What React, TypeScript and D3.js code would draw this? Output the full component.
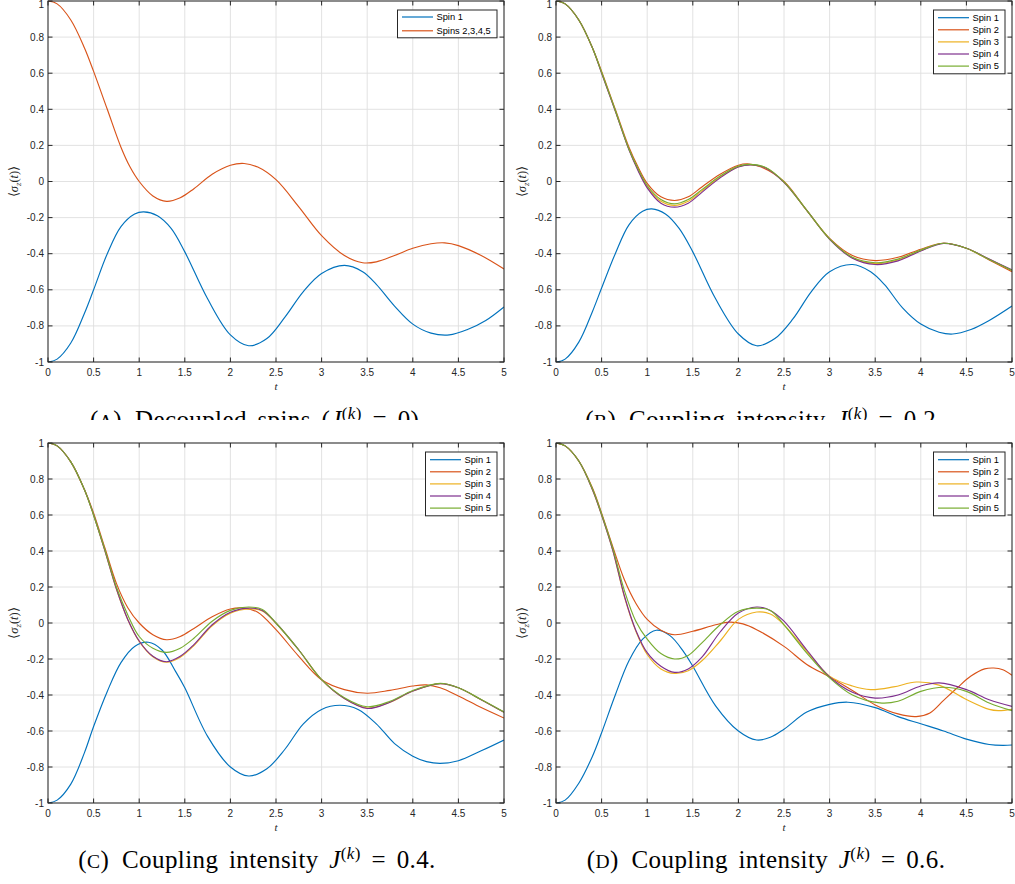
import React from 'react';
import * as d3 from 'd3';

type P = [number, number];

const T_TICKS = [0, 0.5, 1, 1.5, 2, 2.5, 3, 3.5, 4, 4.5, 5];
const T_TICK_LABELS = ['0', '0.5', '1', '1.5', '2', '2.5', '3', '3.5', '4', '4.5', '5'];
const Y_TICKS = [-1, -0.8, -0.6, -0.4, -0.2, 0, 0.2, 0.4, 0.6, 0.8, 1];
const Y_TICK_LABELS = ['-1', '-0.8', '-0.6', '-0.4', '-0.2', '0', '0.2', '0.4', '0.6', '0.8', '1'];

const COLORS = ['#0072BD', '#D95319', '#EDB120', '#7E2F8E', '#77AC30'];
const LEGEND_A = ['Spin 1', 'Spins 2,3,4,5'];
const LEGEND_5 = ['Spin 1', 'Spin 2', 'Spin 3', 'Spin 4', 'Spin 5'];

// Panel A: decoupled spins
const A_SPIN1: P[] = [[0,-1],[0.1,-0.984],[0.25,-0.895],[0.4,-0.73],[0.5,-0.60],[0.65,-0.40],[0.8,-0.25],[0.95,-0.18],[1.05,-0.168],[1.2,-0.19],[1.35,-0.26],[1.5,-0.39],[1.75,-0.65],[2.0,-0.85],[2.2,-0.91],[2.4,-0.87],[2.6,-0.75],[2.8,-0.61],[3.0,-0.51],[3.25,-0.465],[3.45,-0.50],[3.6,-0.57],[3.8,-0.69],[4.0,-0.79],[4.2,-0.84],[4.4,-0.85],[4.6,-0.82],[4.8,-0.77],[5.0,-0.695]];
const A_SPINS2345: P[] = [[0,1],[0.1,0.984],[0.25,0.895],[0.4,0.74],[0.5,0.61],[0.65,0.40],[0.8,0.19],[0.9,0.08],[1.0,0.0],[1.15,-0.08],[1.3,-0.11],[1.45,-0.09],[1.6,-0.04],[1.8,0.04],[2.0,0.09],[2.15,0.10],[2.3,0.08],[2.5,0.01],[2.75,-0.14],[3.0,-0.30],[3.25,-0.41],[3.45,-0.45],[3.6,-0.445],[3.8,-0.41],[4.0,-0.37],[4.2,-0.345],[4.35,-0.34],[4.5,-0.355],[4.75,-0.41],[5.0,-0.485]];

// Panel B: J = 0.2
const B_SPIN1: P[] = [[0,-1],[0.1,-0.984],[0.25,-0.89],[0.4,-0.72],[0.5,-0.59],[0.65,-0.40],[0.8,-0.24],[0.95,-0.165],[1.05,-0.152],[1.2,-0.18],[1.35,-0.26],[1.5,-0.39],[1.75,-0.65],[2.0,-0.845],[2.2,-0.91],[2.4,-0.87],[2.6,-0.76],[2.8,-0.61],[3.0,-0.50],[3.25,-0.46],[3.45,-0.50],[3.6,-0.57],[3.8,-0.70],[4.0,-0.79],[4.2,-0.835],[4.35,-0.845],[4.55,-0.82],[4.75,-0.77],[5.0,-0.69]];
const B_SPIN2: P[] = [[0,1],[0.1,0.984],[0.25,0.895],[0.4,0.74],[0.5,0.61],[0.65,0.40],[0.8,0.19],[0.9,0.08],[1.0,-0.01],[1.15,-0.085],[1.3,-0.105],[1.45,-0.085],[1.6,-0.03],[1.8,0.04],[2.0,0.09],[2.1,0.098],[2.25,0.08],[2.5,0.0],[2.75,-0.16],[3.0,-0.315],[3.25,-0.41],[3.5,-0.438],[3.75,-0.42],[4.0,-0.375],[4.25,-0.342],[4.5,-0.37],[4.75,-0.435],[5.0,-0.50]];
const B_SPIN3: P[] = [[0,1],[0.1,0.984],[0.25,0.895],[0.4,0.74],[0.5,0.603],[0.65,0.392],[0.8,0.178],[0.9,0.065],[1.0,-0.028],[1.15,-0.11],[1.3,-0.133],[1.45,-0.11],[1.6,-0.052],[1.8,0.025],[2.0,0.082],[2.13,0.093],[2.3,0.076],[2.5,-0.004],[2.75,-0.16],[3.0,-0.319],[3.25,-0.422],[3.5,-0.455],[3.75,-0.435],[4.0,-0.382],[4.25,-0.342],[4.5,-0.37],[4.75,-0.431],[5.0,-0.492]];
const B_SPIN4: P[] = [[0,1],[0.1,0.984],[0.25,0.895],[0.4,0.74],[0.5,0.60],[0.65,0.39],[0.8,0.175],[0.9,0.06],[1.0,-0.035],[1.15,-0.12],[1.3,-0.142],[1.45,-0.12],[1.6,-0.06],[1.8,0.02],[2.0,0.08],[2.15,0.092],[2.3,0.075],[2.5,-0.005],[2.75,-0.16],[3.0,-0.32],[3.25,-0.425],[3.5,-0.46],[3.75,-0.44],[4.0,-0.385],[4.25,-0.343],[4.5,-0.37],[4.75,-0.43],[5.0,-0.49]];
const B_SPIN5: P[] = [[0,1],[0.1,0.984],[0.25,0.895],[0.4,0.74],[0.5,0.605],[0.65,0.395],[0.8,0.18],[0.9,0.07],[1.0,-0.022],[1.15,-0.10],[1.3,-0.124],[1.45,-0.10],[1.6,-0.045],[1.8,0.03],[2.0,0.085],[2.12,0.095],[2.3,0.078],[2.5,-0.002],[2.75,-0.16],[3.0,-0.318],[3.25,-0.42],[3.5,-0.45],[3.75,-0.43],[4.0,-0.38],[4.25,-0.342],[4.5,-0.37],[4.75,-0.432],[5.0,-0.493]];

// Panel C: J = 0.4
const C_SPIN1: P[] = [[0,-1],[0.1,-0.984],[0.25,-0.895],[0.4,-0.72],[0.5,-0.575],[0.65,-0.38],[0.8,-0.22],[0.95,-0.13],[1.1,-0.107],[1.25,-0.15],[1.4,-0.27],[1.5,-0.36],[1.75,-0.63],[2.0,-0.80],[2.2,-0.85],[2.4,-0.81],[2.6,-0.70],[2.8,-0.56],[3.0,-0.48],[3.2,-0.457],[3.4,-0.48],[3.6,-0.56],[3.8,-0.67],[4.0,-0.74],[4.15,-0.77],[4.3,-0.78],[4.5,-0.765],[4.75,-0.71],[5.0,-0.65]];
const C_SPIN2: P[] = [[0,1],[0.1,0.984],[0.25,0.895],[0.4,0.74],[0.5,0.61],[0.625,0.415],[0.75,0.22],[0.875,0.085],[1.0,0.0],[1.15,-0.065],[1.3,-0.093],[1.45,-0.075],[1.6,-0.03],[1.8,0.035],[2.0,0.078],[2.15,0.083],[2.3,0.06],[2.5,-0.037],[2.75,-0.185],[3.0,-0.315],[3.25,-0.37],[3.5,-0.39],[3.75,-0.374],[4.0,-0.35],[4.15,-0.344],[4.3,-0.36],[4.5,-0.405],[4.75,-0.47],[5.0,-0.528]];
const C_SPIN3: P[] = [[0,1],[0.1,0.984],[0.25,0.895],[0.4,0.74],[0.5,0.60],[0.625,0.40],[0.75,0.188],[0.875,0.018],[1.0,-0.102],[1.15,-0.187],[1.3,-0.218],[1.45,-0.19],[1.6,-0.125],[1.8,-0.015],[2.0,0.055],[2.2,0.078],[2.35,0.067],[2.5,-0.002],[2.75,-0.15],[3.0,-0.315],[3.25,-0.42],[3.5,-0.472],[3.75,-0.44],[4.0,-0.378],[4.3,-0.337],[4.5,-0.36],[4.75,-0.426],[5.0,-0.496]];
const C_SPIN4: P[] = [[0,1],[0.1,0.984],[0.25,0.895],[0.4,0.74],[0.5,0.60],[0.625,0.40],[0.75,0.19],[0.875,0.02],[1.0,-0.10],[1.15,-0.185],[1.3,-0.215],[1.45,-0.185],[1.6,-0.12],[1.8,-0.01],[2.0,0.06],[2.2,0.083],[2.35,0.07],[2.5,0.0],[2.75,-0.15],[3.0,-0.315],[3.25,-0.42],[3.5,-0.475],[3.75,-0.44],[4.0,-0.378],[4.3,-0.337],[4.5,-0.36],[4.75,-0.426],[5.0,-0.496]];
const C_SPIN5: P[] = [[0,1],[0.1,0.984],[0.25,0.895],[0.4,0.74],[0.5,0.60],[0.625,0.405],[0.75,0.20],[0.875,0.045],[1.0,-0.075],[1.15,-0.14],[1.3,-0.163],[1.45,-0.14],[1.6,-0.085],[1.8,0.01],[2.0,0.07],[2.2,0.089],[2.35,0.075],[2.5,0.0],[2.75,-0.15],[3.0,-0.315],[3.25,-0.415],[3.5,-0.465],[3.75,-0.435],[4.0,-0.375],[4.3,-0.335],[4.5,-0.36],[4.75,-0.425],[5.0,-0.494]];

// Panel D: J = 0.6
const D_SPIN1: P[] = [[0,-1],[0.1,-0.984],[0.25,-0.89],[0.4,-0.74],[0.5,-0.61],[0.65,-0.40],[0.8,-0.21],[0.95,-0.09],[1.1,-0.04],[1.25,-0.07],[1.4,-0.16],[1.5,-0.24],[1.75,-0.46],[2.0,-0.60],[2.2,-0.65],[2.35,-0.635],[2.5,-0.59],[2.75,-0.495],[3.0,-0.452],[3.2,-0.44],[3.5,-0.47],[3.75,-0.52],[4.0,-0.56],[4.25,-0.60],[4.5,-0.645],[4.75,-0.675],[4.9,-0.68],[5.0,-0.678]];
const D_SPIN2: P[] = [[0,1],[0.1,0.984],[0.25,0.9],[0.4,0.75],[0.5,0.61],[0.625,0.42],[0.75,0.24],[0.875,0.11],[1.0,0.02],[1.15,-0.04],[1.3,-0.065],[1.5,-0.046],[1.75,-0.01],[1.9,0.005],[2.05,-0.005],[2.2,-0.037],[2.5,-0.13],[2.75,-0.23],[3.0,-0.30],[3.25,-0.375],[3.5,-0.455],[3.75,-0.505],[3.95,-0.52],[4.1,-0.50],[4.25,-0.43],[4.4,-0.36],[4.55,-0.295],[4.7,-0.255],[4.8,-0.25],[4.9,-0.26],[5.0,-0.29]];
const D_SPIN3: P[] = [[0,1],[0.1,0.984],[0.25,0.9],[0.4,0.74],[0.5,0.60],[0.625,0.40],[0.75,0.145],[0.875,-0.045],[1.0,-0.175],[1.15,-0.255],[1.3,-0.28],[1.45,-0.265],[1.6,-0.21],[1.8,-0.10],[2.0,0.02],[2.2,0.061],[2.35,0.05],[2.5,-0.01],[2.75,-0.157],[3.0,-0.295],[3.25,-0.35],[3.45,-0.37],[3.7,-0.355],[3.95,-0.328],[4.2,-0.345],[4.5,-0.425],[4.75,-0.48],[4.85,-0.487],[5.0,-0.48]];
const D_SPIN4: P[] = [[0,1],[0.1,0.984],[0.25,0.9],[0.4,0.74],[0.5,0.60],[0.625,0.40],[0.75,0.15],[0.875,-0.04],[1.0,-0.165],[1.15,-0.24],[1.3,-0.274],[1.45,-0.255],[1.6,-0.19],[1.8,-0.05],[2.0,0.055],[2.2,0.089],[2.35,0.07],[2.5,0.01],[2.75,-0.15],[3.0,-0.30],[3.25,-0.385],[3.5,-0.417],[3.75,-0.40],[4.0,-0.35],[4.2,-0.333],[4.5,-0.37],[4.75,-0.426],[5.0,-0.463]];
const D_SPIN5: P[] = [[0,1],[0.1,0.984],[0.25,0.9],[0.4,0.745],[0.5,0.605],[0.625,0.41],[0.75,0.18],[0.875,0.01],[1.0,-0.09],[1.15,-0.17],[1.3,-0.20],[1.45,-0.18],[1.6,-0.11],[1.8,-0.01],[2.0,0.065],[2.2,0.083],[2.35,0.07],[2.5,-0.01],[2.75,-0.167],[3.0,-0.305],[3.25,-0.40],[3.55,-0.444],[3.75,-0.435],[4.0,-0.38],[4.25,-0.357],[4.5,-0.38],[4.75,-0.444],[5.0,-0.487]];

const CAPTION_LETTERS = ['A', 'B', 'C', 'D'];
const CAPTION_TEXT = ['Decoupled spins (', 'Coupling intensity ', 'Coupling intensity ', 'Coupling intensity '];
const CAPTION_TAIL = [' = 0).', ' = 0.2.', ' = 0.4.', ' = 0.6.'];

const SANS = '"Liberation Sans", Arial, Helvetica, sans-serif';
const SERIF = '"Liberation Serif", "Times New Roman", serif';
const AXIS_COLOR = '#262626';

interface PanelProps {
  x0: number; x1: number; y0: number; y1: number;
  series: P[][];
  colors: string[];
  legend: string[];
  legendW: number;
  legendItemGap: number;
  legendPad: number;
  id: string;
}

function Panel({ x0, x1, y0, y1, series, colors, legend, legendW, legendItemGap, legendPad, id }: PanelProps) {
  const x = d3.scaleLinear().domain([0, 5]).range([x0, x1]);
  const y = d3.scaleLinear().domain([-1, 1]).range([y1, y0]);
  const line = d3.line<P>().x(d => x(d[0])).y(d => y(d[1])).curve(d3.curveCatmullRom.alpha(0.5));
  const tickLen = 4.5;
  const lgRight = x1 - 7;
  const lgLeft = lgRight - legendW;
  const lgTop = y0 + 9;
  const lgH = legendPad * 2 + legendItemGap * (legend.length - 1);
  return (
    <g>
      <defs>
        <clipPath id={`clip-${id}`}>
          <rect x={x0} y={y0} width={x1 - x0} height={y1 - y0} />
        </clipPath>
      </defs>
      <rect x={x0} y={y0} width={x1 - x0} height={y1 - y0} fill="#fff" />
      {T_TICKS.map((t, i) => (
        <line key={`gx${i}`} x1={x(t)} x2={x(t)} y1={y0} y2={y1} stroke="#dfdfdf" strokeWidth={0.9} />
      ))}
      {Y_TICKS.map((v, i) => (
        <line key={`gy${i}`} x1={x0} x2={x1} y1={y(v)} y2={y(v)} stroke="#dfdfdf" strokeWidth={0.9} />
      ))}
      <g clipPath={`url(#clip-${id})`}>
        {series.map((s, i) => (
          <path key={`s${i}`} d={line(s) || ''} fill="none" stroke={colors[i]} strokeWidth={1.15} />
        ))}
      </g>
      <rect x={x0} y={y0} width={x1 - x0} height={y1 - y0} fill="none" stroke={AXIS_COLOR} strokeWidth={1} />
      {T_TICKS.map((t, i) => (
        <g key={`tx${i}`}>
          <line x1={x(t)} x2={x(t)} y1={y1} y2={y1 - tickLen} stroke={AXIS_COLOR} strokeWidth={1} />
          <line x1={x(t)} x2={x(t)} y1={y0} y2={y0 + tickLen} stroke={AXIS_COLOR} strokeWidth={1} />
          <text x={x(t)} y={y1 + 14.3} textAnchor="middle" fontFamily={SANS} fontSize={10} fill={AXIS_COLOR}>{T_TICK_LABELS[i]}</text>
        </g>
      ))}
      {Y_TICKS.map((v, i) => (
        <g key={`ty${i}`}>
          <line x1={x0} x2={x0 + tickLen} y1={y(v)} y2={y(v)} stroke={AXIS_COLOR} strokeWidth={1} />
          <line x1={x1} x2={x1 - tickLen} y1={y(v)} y2={y(v)} stroke={AXIS_COLOR} strokeWidth={1} />
          <text x={x0 - 4} y={Math.max(y(v) + 3.5, 7.5)} textAnchor="end" fontFamily={SANS} fontSize={10} fill={AXIS_COLOR}>{Y_TICK_LABELS[i]}</text>
        </g>
      ))}
      <text x={(x0 + x1) / 2} y={y1 + 28} textAnchor="middle" fontFamily={SERIF} fontStyle="italic" fontSize={11} fill={AXIS_COLOR}>t</text>
      <text transform={`translate(${x0 - 30},${(y0 + y1) / 2}) rotate(-90)`} textAnchor="middle" fontFamily={SERIF} fontSize={12.5} fill={AXIS_COLOR}>
        <tspan>⟨</tspan><tspan fontStyle="italic">σ</tspan><tspan fontStyle="italic" fontSize={9} dy={2.5}>z</tspan><tspan dy={-2.5}>(</tspan><tspan fontStyle="italic">t</tspan><tspan>)⟩</tspan>
      </text>
      <rect x={lgLeft} y={lgTop} width={legendW} height={lgH} fill="#fff" stroke={AXIS_COLOR} strokeWidth={1} />
      {legend.map((name, i) => {
        const cy = lgTop + legendPad + i * legendItemGap;
        return (
          <g key={`lg${i}`}>
            <line x1={lgLeft + 4.5} x2={lgLeft + 35.5} y1={cy} y2={cy} stroke={colors[i]} strokeWidth={1.2} />
            <text x={lgLeft + 39} y={cy + 3.3} fontFamily={SANS} fontSize={9.3} fill="#000">{name}</text>
          </g>
        );
      })}
    </g>
  );
}

function Caption({ cx, baseline, idx }: { cx: number; baseline: number; idx: number }) {
  const fs = 25;
  const sup = 17;
  return (
    <text x={cx} y={baseline} textAnchor="middle" fontFamily={SERIF} fontSize={fs} fill="#000" letterSpacing={0.4} wordSpacing={4}>
      <tspan>(</tspan>
      <tspan fontSize={fs * 0.78}>{CAPTION_LETTERS[idx]}</tspan>
      <tspan>){'\u2002'}{CAPTION_TEXT[idx]}</tspan>
      <tspan fontStyle="italic">J</tspan>
      <tspan fontSize={sup} dy={-9.5}>(</tspan>
      <tspan fontSize={sup} fontStyle="italic">k</tspan>
      <tspan fontSize={sup}>)</tspan>
      <tspan dy={9.5}>{CAPTION_TAIL[idx]}</tspan>
    </text>
  );
}

export default function App() {
  const W = 1015;
  const H = 884;
  return (
    <svg width={W} height={H} viewBox={`0 0 ${W} ${H}`} style={{ position: 'absolute', left: 0, top: 0, background: '#fff' }}>
      <rect x={0} y={0} width={W} height={H} fill="#fff" />
      <defs>
        <clipPath id="clip-top-captions">
          <rect x={0} y={0} width={W} height={420} />
        </clipPath>
      </defs>
      <g clipPath="url(#clip-top-captions)">
        <Caption cx={258} baseline={428} idx={0} />
        <Caption cx={764} baseline={428} idx={1} />
      </g>
      <Panel id="a" x0={48} x1={504} y0={1} y1={362} series={[A_SPIN1, A_SPINS2345]} colors={COLORS} legend={LEGEND_A} legendW={99.5} legendItemGap={13.8} legendPad={7} />
      <Panel id="b" x0={556} x1={1012} y0={1} y1={362} series={[B_SPIN1, B_SPIN2, B_SPIN3, B_SPIN4, B_SPIN5]} colors={COLORS} legend={LEGEND_5} legendW={71.5} legendItemGap={12.1} legendPad={7.7} />
      <Panel id="c" x0={48} x1={504} y0={443} y1={803} series={[C_SPIN1, C_SPIN2, C_SPIN3, C_SPIN4, C_SPIN5]} colors={COLORS} legend={LEGEND_5} legendW={71.5} legendItemGap={12.1} legendPad={7.7} />
      <Panel id="d" x0={556} x1={1012} y0={443} y1={803} series={[D_SPIN1, D_SPIN2, D_SPIN3, D_SPIN4, D_SPIN5]} colors={COLORS} legend={LEGEND_5} legendW={71.5} legendItemGap={12.1} legendPad={7.7} />
      <Caption cx={257} baseline={868} idx={2} />
      <Caption cx={766} baseline={868} idx={3} />
    </svg>
  );
}
